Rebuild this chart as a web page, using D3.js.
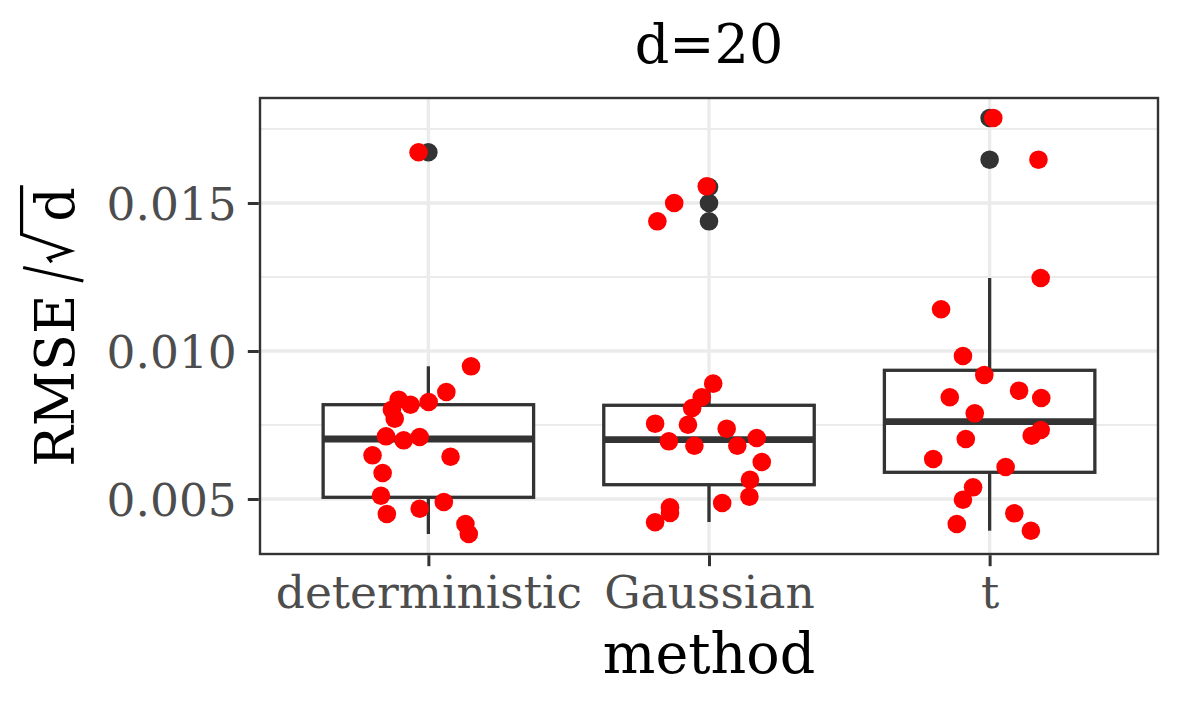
<!DOCTYPE html>
<html>
<head>
<meta charset="utf-8">
<script src="https://cdn.jsdelivr.net/npm/d3@7"></script>
<style>
  html, body { margin: 0; padding: 0; background: #fff; }
  svg { display: block; font-family: "DejaVu Serif", serif; }
</style>
</head>
<body>
<svg id="chart" width="1181" height="708"></svg>
<script>
// ---- data ----
const methods = ["deterministic", "Gaussian", "t"];
const yTicks = [0.005, 0.010, 0.015];
const yTickLabels = ["0.005", "0.010", "0.015"];
const yMinorTicks = [0.0075, 0.0125, 0.0175];

// box statistics per method
const whiskerLow = [0.003818, 0.004223, 0.003929];
const q1 = [0.005057, 0.005483, 0.005902];
const medians = [0.007027, 0.007003, 0.007611];
const q3 = [0.008186, 0.008166, 0.009348];
const whiskerHigh = [0.009483, 0.008897, 0.012466];
const outliersDeterministic = [0.016713];
const outliersGaussian = [0.015541, 0.015000, 0.014381];
const outliersT = [0.017871, 0.016463];

// jittered points: values and horizontal jitter (in category units)
const valuesDeterministic = [0.016713, 0.009483, 0.008615, 0.008355, 0.008186, 0.008277, 0.008017, 0.007713, 0.007118, 0.006983,
  0.007095, 0.006476, 0.006429, 0.005878, 0.005111, 0.004899, 0.004672, 0.004493, 0.004155, 0.003818];
const jitterDeterministic = [-0.035, 0.152, 0.064, -0.106, -0.064, 0.001, -0.130, -0.120, -0.151, -0.088,
  -0.031, -0.199, 0.079, -0.163, -0.169, 0.055, -0.031, -0.148, 0.132, 0.144];
const valuesGaussian = [0.015564, 0.015000, 0.014381, 0.008897, 0.008436, 0.008074, 0.007544, 0.007510, 0.007375, 0.007061,
  0.006949, 0.006800, 0.006800, 0.006250, 0.005652, 0.005078, 0.004865, 0.004720, 0.004527, 0.004213];
const jitterGaussian = [-0.008, -0.124, -0.184, 0.015, -0.026, -0.060, -0.192, -0.075, 0.063, 0.170,
  -0.143, -0.052, 0.101, 0.188, 0.146, 0.144, 0.047, -0.139, -0.139, -0.192];
const valuesT = [0.017871, 0.016463, 0.012466, 0.011409, 0.009831, 0.009189, 0.008659, 0.008436, 0.008412, 0.007895,
  0.007331, 0.007139, 0.007027, 0.006351, 0.006081, 0.005395, 0.004976, 0.004517, 0.004155, 0.003929];
const jitterT = [0.013, 0.174, 0.182, -0.173, -0.095, -0.019, 0.105, -0.142, 0.184, -0.053,
  0.182, 0.150, -0.085, -0.201, 0.057, -0.059, -0.095, 0.088, -0.117, 0.147];

const titleText = "d=20";
const xTitle = "method";

// ---- build tables ----
const outliers = [outliersDeterministic, outliersGaussian, outliersT];
const pointValues = [valuesDeterministic, valuesGaussian, valuesT];
const pointJitter = [jitterDeterministic, jitterGaussian, jitterT];
const boxes = methods.map((m, i) => ({
  method: m, lo: whiskerLow[i], q1: q1[i], med: medians[i], q3: q3[i], hi: whiskerHigh[i], out: outliers[i]
}));
const points = [];
methods.forEach((m, i) => pointValues[i].forEach((v, j) => points.push({ idx: i, v: v, jit: pointJitter[i][j] })));

// ---- layout ----
const panel = { left: 260, right: 1158, top: 98, bottom: 554 };
const svg = d3.select("#chart");
svg.append("rect").attr("width", 1181).attr("height", 708).attr("fill", "#fff");

const xCat = d3.scaleLinear().domain([0.4, 3.6]).range([panel.left, panel.right]); // category index 1..3
const xBand = i => xCat(i + 1);
const unit = xCat(2) - xCat(1);
const y = d3.scaleLinear().domain([0.003142, 0.018547]).range([panel.bottom, panel.top]);

// panel background
svg.append("rect").attr("x", panel.left).attr("y", panel.top)
  .attr("width", panel.right - panel.left).attr("height", panel.bottom - panel.top).attr("fill", "#fff");

const grid = svg.append("g");
grid.selectAll("line.minor").data(yMinorTicks.filter(t => t >= y.domain()[0] && t <= y.domain()[1])).join("line")
  .attr("x1", panel.left).attr("x2", panel.right)
  .attr("y1", d => y(d)).attr("y2", d => y(d))
  .attr("stroke", "#EBEBEB").attr("stroke-width", 1.8);
grid.selectAll("line.majy").data(yTicks).join("line")
  .attr("x1", panel.left).attr("x2", panel.right)
  .attr("y1", d => y(d)).attr("y2", d => y(d))
  .attr("stroke", "#EBEBEB").attr("stroke-width", 3.4);
grid.selectAll("line.majx").data(methods).join("line")
  .attr("x1", (d, i) => xBand(i)).attr("x2", (d, i) => xBand(i))
  .attr("y1", panel.top).attr("y2", panel.bottom)
  .attr("stroke", "#EBEBEB").attr("stroke-width", 3.4);

// boxplots
const boxCol = "#333333";
const bw = 0.75 * unit;
const bg = svg.append("g").selectAll("g").data(boxes).join("g");
bg.append("line")
  .attr("x1", (d, i) => xBand(i)).attr("x2", (d, i) => xBand(i))
  .attr("y1", d => y(d.hi)).attr("y2", d => y(d.q3))
  .attr("stroke", boxCol).attr("stroke-width", 3.3);
bg.append("line")
  .attr("x1", (d, i) => xBand(i)).attr("x2", (d, i) => xBand(i))
  .attr("y1", d => y(d.q1)).attr("y2", d => y(d.lo))
  .attr("stroke", boxCol).attr("stroke-width", 3.3);
bg.append("rect")
  .attr("x", (d, i) => xBand(i) - bw / 2).attr("width", bw)
  .attr("y", d => y(d.q3)).attr("height", d => y(d.q1) - y(d.q3))
  .attr("fill", "#fff").attr("stroke", boxCol).attr("stroke-width", 3.3);
bg.append("line")
  .attr("x1", (d, i) => xBand(i) - bw / 2).attr("x2", (d, i) => xBand(i) + bw / 2)
  .attr("y1", d => y(d.med)).attr("y2", d => y(d.med))
  .attr("stroke", boxCol).attr("stroke-width", 6.8);
bg.each(function(d, i) {
  d3.select(this).selectAll("circle").data(d.out).join("circle")
    .attr("cx", xBand(i)).attr("cy", v => y(v)).attr("r", 9.3).attr("fill", boxCol);
});

// jittered points
svg.append("g").selectAll("circle").data(points).join("circle")
  .attr("cx", d => xCat(d.idx + 1 + d.jit)).attr("cy", d => y(d.v))
  .attr("r", 9.3).attr("fill", "#FF0000");

// panel border
svg.append("rect").attr("x", panel.left).attr("y", panel.top)
  .attr("width", panel.right - panel.left).attr("height", panel.bottom - panel.top)
  .attr("fill", "none").attr("stroke", "#333333").attr("stroke-width", 2.4);

// axes
const yAxis = d3.axisLeft(y).tickValues(yTicks).tickFormat((d, i) => yTickLabels[i]).tickSize(11).tickPadding(11);
const gy = svg.append("g").attr("transform", `translate(${panel.left - 1.2},0)`).call(yAxis);
gy.select(".domain").remove();
gy.selectAll(".tick line").attr("stroke", "#333333").attr("stroke-width", 3);
gy.selectAll(".tick text").attr("fill", "#4D4D4D").attr("font-size", 45.5)
  .attr("font-family", "DejaVu Serif").attr("dy", "0.36em");

const xAxisScale = d3.scalePoint().domain(methods).range([xBand(0), xBand(2)]);
const xAxis = d3.axisBottom(xAxisScale).tickSize(11).tickPadding(7);
const gx = svg.append("g").attr("transform", `translate(0,${panel.bottom + 1.2})`).call(xAxis);
gx.select(".domain").remove();
gx.selectAll(".tick line").attr("stroke", "#333333").attr("stroke-width", 3);
gx.selectAll(".tick text").attr("fill", "#4D4D4D").attr("font-size", 45.5)
  .attr("font-family", "DejaVu Serif").attr("dy", "0.76em");

// titles
svg.append("text").attr("x", (panel.left + panel.right) / 2).attr("y", 63)
  .attr("text-anchor", "middle").attr("font-size", 54).attr("fill", "#000").text(titleText);
svg.append("text").attr("x", (panel.left + panel.right) / 2).attr("y", 673)
  .attr("text-anchor", "middle").attr("font-size", 55.5).attr("fill", "#000").text(xTitle);

// y-axis title: RMSE / sqrt(d)
const fs = 54;
const yt = svg.append("g")
  .attr("transform", `translate(73.5,${(panel.top + panel.bottom) / 2}) rotate(-90)`);
const t1 = yt.append("text").attr("font-size", fs).attr("fill", "#000").text("RMSE");
const w1 = t1.node().getComputedTextLength();
const t2 = yt.append("text").attr("font-size", fs).attr("fill", "#000").text("d");
const w2 = t2.node().getComputedTextLength();
const k = fs / 52;
const dStart = w1 + 70 * k;
const barEnd = dStart + w2 + 2 * k;
const total = barEnd;
const x0 = -total / 2;
t1.attr("x", x0);
t2.attr("x", x0 + dStart);
// slash
yt.append("line")
  .attr("x1", x0 + w1 + 13 * k).attr("y1", 9.5 * k)
  .attr("x2", x0 + w1 + 26 * k).attr("y2", -48.5 * k)
  .attr("stroke", "#000").attr("stroke-width", 3.2);
// radical
const radPath = d3.path();
radPath.moveTo(x0 + w1 + 31 * k, -21 * k);
radPath.lineTo(x0 + w1 + 35 * k, -24 * k);
radPath.lineTo(x0 + w1 + 42 * k, -3 * k);
radPath.lineTo(x0 + w1 + 58 * k, -50 * k);
radPath.lineTo(x0 + barEnd, -50 * k);
yt.append("path").attr("d", radPath.toString()).attr("fill", "none")
  .attr("stroke", "#000").attr("stroke-width", 3.2).attr("stroke-linejoin", "miter");
</script>
</body>
</html>
